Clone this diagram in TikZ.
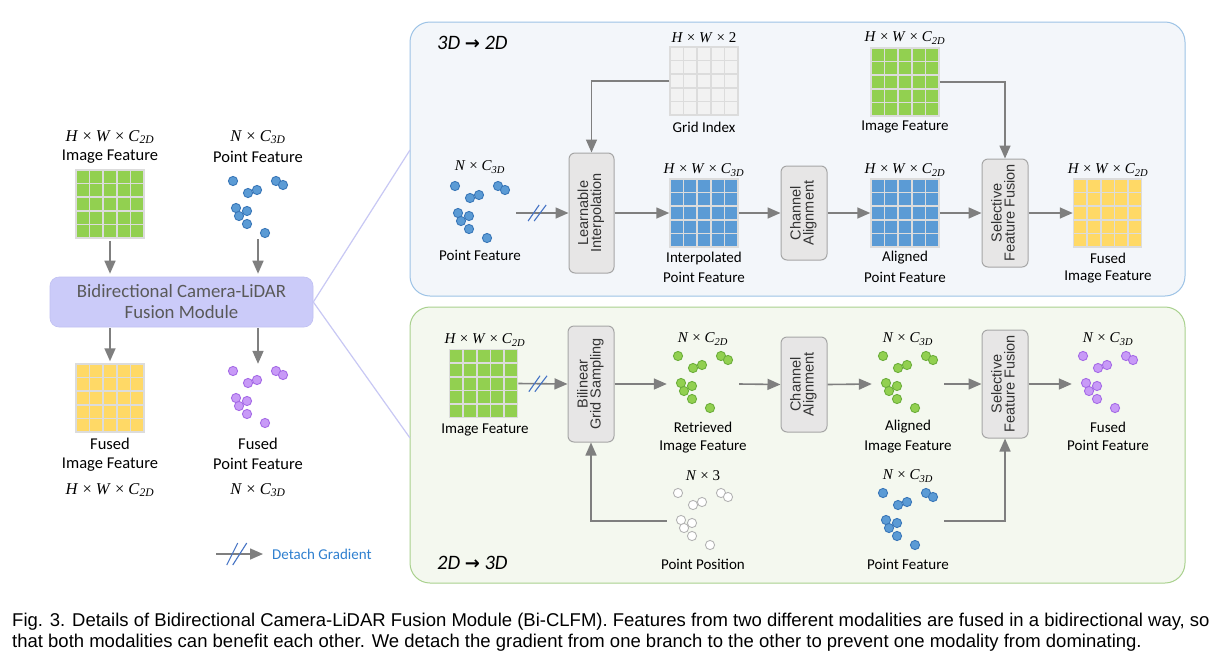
\documentclass[tikz,border=0pt]{standalone}
\usepackage{fontspec}
\setmainfont{Carlito}
\newfontfamily\arialf{Liberation Sans}
\newfontfamily\djv{DejaVu Sans}
\newfontfamily\msf{Liberation Serif}
\newcommand\dimHWC[1]{{\msf\textit{H} × \textit{W} × \textit{C}\textsubscript{\textit{#1}}}}
\newcommand\dimNC[1]{{\msf\textit{N} × \textit{C}\textsubscript{\textit{#1}}}}
\newcommand\dimHWtwo{{\msf\textit{H} × \textit{W} × 2}}
\newcommand\dimNthree{{\msf\textit{N} × 3}}
\usetikzlibrary{arrows.meta,decorations.markings,calc}
\definecolor{gfill}{HTML}{92D050}
\definecolor{gdraw}{HTML}{6DAE3C}
\definecolor{bfill}{HTML}{5B9BD5}
\definecolor{bdraw}{HTML}{3A77B8}
\definecolor{yfill}{HTML}{FFD966}
\definecolor{pfill}{HTML}{C89AF7}
\definecolor{pdraw}{HTML}{A56BE6}
\definecolor{wfill}{HTML}{FFFFFF}
\definecolor{wdraw}{HTML}{B4B4B4}
\definecolor{ifill}{HTML}{F2F2F2}
\definecolor{gridln}{HTML}{DCDCDC}
\definecolor{arrg}{HTML}{7F7F7F}
\definecolor{boxf}{HTML}{E7E6E6}
\definecolor{boxd}{HTML}{A6A6A6}
\definecolor{lav}{HTML}{CBCBF9}
\definecolor{lavd}{HTML}{C0C0F2}
\definecolor{lavline}{HTML}{C8C8F4}
\definecolor{topf}{HTML}{F3F6FA}
\definecolor{topd}{HTML}{9DC3E6}
\definecolor{botf}{HTML}{F4F8EF}
\definecolor{botd}{HTML}{A9D18E}
\definecolor{slashc}{HTML}{4472C4}
\definecolor{legc}{HTML}{2F80D0}
\definecolor{modtext}{HTML}{595959}
\begin{document}
\begin{tikzpicture}[x=1pt,y=-1pt,
  fgrid/.style={draw=gridln, line width=1.5pt, fill=#1, minimum size=68pt, inner sep=0pt,
    path picture={
      \foreach \i in {1,2,3,4}{
        \draw[gridln, line width=1.6pt]
          ($(path picture bounding box.south west)!\i/5!(path picture bounding box.south east)$) --
          ($(path picture bounding box.north west)!\i/5!(path picture bounding box.north east)$);
        \draw[gridln, line width=1.6pt]
          ($(path picture bounding box.south west)!\i/5!(path picture bounding box.north west)$) --
          ($(path picture bounding box.south east)!\i/5!(path picture bounding box.north east)$);
      }}},
  cloudbox/.style={minimum width=72pt, minimum height=60pt, inner sep=0pt},
  pics/cloud/.style 2 args={code={
    \foreach \dx/\dy in {-25/-26,-10/-14,-1/-17,18/-26,25/-22,-22/1,-19/9,-11/4,-11/17,7/26}
      \filldraw[fill=#1, draw=#2, line width=0.9pt] (\dx,\dy) circle[radius=4.6pt];}},
  gbox/.style={draw=boxd, fill=boxf, rounded corners=6pt, line width=1pt, inner sep=0pt,
    font=\arialf\fontsize{14.5}{16}\selectfont, text=black!80},
  arr/.style={draw=arrg, line width=1.6pt, -{Triangle[length=13pt,width=11pt]}},
  detach/.style={postaction={decorate}, decoration={markings, mark=at position #1 with
    {\draw[slashc, -, line width=1.1pt] (-9pt,-8pt)--(2pt,8pt) (-3pt,-8pt)--(9pt,8pt);}}},
  detachbig/.style={postaction={decorate}, decoration={markings, mark=at position #1 with
    {\draw[slashc, -, line width=1.1pt] (-9pt,-11pt)--(2pt,11pt) (-3pt,-11pt)--(11pt,11pt);}}},
  lbl/.style={font=\fontsize{15}{17}\selectfont, inner sep=0pt, text=black},
  llbl/.style={font=\fontsize{16.5}{19}\selectfont, inner sep=0pt, text=black},
  panel/.style={rounded corners=20pt, line width=1pt},
]
\fill[white] (0,0) rectangle (1225,670);
\useasboundingbox (0,0) rectangle (1225,670);

% panels
\node[panel, draw=topd, fill=topf, minimum width=775pt, minimum height=274pt] (ptop) at (797.5,159) {};
\node[panel, draw=botd, fill=botf, minimum width=775pt, minimum height=276pt] (pbot) at (797.5,445) {};

% ---------------- left part ----------------
\node[llbl] (lm1) at (110,137) {\dimHWC{2D}};
\node[llbl] (lt1) at (110,157) {Image Feature};
\node[llbl] (lm2) at (258,137) {\dimNC{3D}};
\node[llbl] (lt2) at (258,157) {Point Feature};
\node[fgrid=gfill] (lif) at (110,204) {};
\node[cloudbox] (lpf) at (258,207) {};
\pic at (258,207) {cloud={bfill}{bdraw}};

\node[fill=lav, draw=lavd, line width=0.6pt, rounded corners=9pt, minimum width=263pt, minimum height=50pt,
  align=center, text=modtext, font=\fontsize{18.8}{21}\selectfont] (bcl) at (181.5,302)
  {Bidirectional Camera-LiDAR\\Fusion Module};

\node[fgrid=yfill] (lfif) at (110,398) {};
\node[cloudbox] (lfpf) at (258,398) {};
\pic at (258,397) {cloud={pfill}{pdraw}};
\node[llbl] (lt3) at (110,444) {Fused};
\node[llbl] (lt4) at (110,465) {Image Feature};
\node[llbl] (lm3) at (110,490) {\dimHWC{2D}};
\node[llbl] (lt5) at (258,444) {Fused};
\node[llbl] (lt6) at (258,464) {Point Feature};
\node[llbl] (lm4) at (258,490) {\dimNC{3D}};

\draw[arr, shorten <=2pt, shorten >=3pt] (lif.south) -- (lif.south |- bcl.north);
\draw[arr, shorten <=2pt, shorten >=3pt] (lpf.south) -- (lpf.south |- bcl.north);
\draw[arr, shorten <=1pt, shorten >=2pt] (bcl.south -| lfif.north) -- (lfif.north);
\draw[arr, shorten <=1pt, shorten >=4pt] (bcl.south -| lfpf.north) -- (lfpf.north);

% lavender links
\coordinate (lu) at (410,150);
\coordinate (ll) at (410,438);
\draw[lavline, line width=1.2pt] (bcl.east) -- (lu);
\draw[lavline, line width=1.2pt] (bcl.east) -- (ll);

% legend
\coordinate (lg1) at (216,554);
\coordinate (lg2) at (263,554);
\draw[arr, detachbig=0.42] (lg1) -- (lg2);
\node[anchor=west, text=legc, font=\fontsize{15}{17}\selectfont, inner sep=0pt] (lgt) at (272,554) {Detach Gradient};

% ---------------- top panel: 3D -> 2D ----------------
\node[anchor=west, inner sep=0pt, font=\fontsize{20.5}{23}\selectfont] (t32) at (437,43)
  {\itshape 3D {\djv\bfseries\fontsize{18}{20}\selectfont →} 2D};

\node[lbl] (gim) at (704,38) {\dimHWtwo};
\node[fgrid=ifill] (gi) at (704,81) {};
\node[lbl] (git) at (704,127) {Grid Index};

\node[lbl] (ifm) at (905,38) {\dimHWC{2D}};
\node[fgrid=gfill] (if1) at (905,82) {};
\node[lbl] (ift) at (905,127) {Image Feature};

\node[lbl] (pfm) at (480,167) {\dimNC{3D}};
\node[cloudbox] (pf1) at (480,213) {};
\pic at (480,212) {cloud={bfill}{bdraw}};
\node[lbl] (pft) at (480,255) {Point Feature};

\node[gbox, minimum width=45pt, minimum height=120pt] (li) at (591.5,213)
  {\rotatebox{90}{\begin{tabular}{@{}c@{}}Learnable\\[-3pt]Interpolation\end{tabular}}};

\node[lbl] (ipm) at (704,170) {\dimHWC{3D}};
\node[fgrid=bfill] (ipf) at (704,213) {};
\node[lbl] (ipt1) at (704,258) {Interpolated};
\node[lbl] (ipt2) at (704,277) {Point Feature};

\node[gbox, minimum width=46pt, minimum height=94pt] (ca1) at (804,213)
  {\rotatebox{90}{\begin{tabular}{@{}c@{}}Channel\\[-3pt]Alignment\end{tabular}}};

\node[lbl] (apm) at (905,170) {\dimHWC{2D}};
\node[fgrid=bfill] (apf) at (905,213) {};
\node[lbl] (apt1) at (905,258) {Aligned};
\node[lbl] (apt2) at (905,277) {Point Feature};

\node[gbox, minimum width=46pt, minimum height=108pt] (sff1) at (1005,213)
  {\rotatebox{90}{\begin{tabular}{@{}c@{}}Selective\\[-3pt]Feature Fusion\end{tabular}}};

\node[lbl] (fim) at (1108,170) {\dimHWC{2D}};
\node[fgrid=yfill] (fif) at (1107.5,213) {};
\node[lbl] (fit1) at (1108,258) {Fused};
\node[lbl] (fit2) at (1108,277) {Image Feature};

\draw[arr] (gi.west) -| (li.north);
\draw[arr] (if1.east) -| (sff1.north);
\draw[arr, detach=0.4] (pf1.east) -- (li.west);
\draw[arr] (li.east) -- (ipf.west);
\draw[arr] (ipf.east) -- (ca1.west);
\draw[arr] (ca1.east) -- (apf.west);
\draw[arr] (apf.east) -- (sff1.west);
\draw[arr] (sff1.east) -- (fif.west);

% ---------------- bottom panel: 2D -> 3D ----------------
\node[anchor=west, inner sep=0pt, font=\fontsize{20.5}{23}\selectfont] (t23) at (437,563)
  {\itshape 2D {\djv\bfseries\fontsize{18}{20}\selectfont →} 3D};

\node[lbl] (bim) at (485,340) {\dimHWC{2D}};
\node[fgrid=gfill] (bif) at (483.5,383.5) {};
\node[lbl] (bit) at (485,430) {Image Feature};

\node[gbox, minimum width=46pt, minimum height=116pt] (bgs) at (591,384)
  {\rotatebox{90}{\begin{tabular}{@{}c@{}}Bilinear\\[-3pt]Grid Sampling\end{tabular}}};

\node[lbl] (rim) at (703,339) {\dimNC{2D}};
\node[cloudbox] (rif) at (703,384) {};
\pic at (703,382) {cloud={gfill}{gdraw}};
\node[lbl] (rit1) at (703,427) {Retrieved};
\node[lbl] (rit2) at (703,447) {Image Feature};

\node[gbox, minimum width=46pt, minimum height=95pt] (ca2) at (804,384.5)
  {\rotatebox{90}{\begin{tabular}{@{}c@{}}Channel\\[-3pt]Alignment\end{tabular}}};

\node[lbl] (aim) at (908,339) {\dimNC{3D}};
\node[cloudbox] (aif) at (908,384) {};
\pic at (908,382) {cloud={gfill}{gdraw}};
\node[lbl] (ait1) at (908,427) {Aligned};
\node[lbl] (ait2) at (908,447) {Image Feature};

\node[gbox, minimum width=46pt, minimum height=108pt] (sff2) at (1005,384)
  {\rotatebox{90}{\begin{tabular}{@{}c@{}}Selective\\[-3pt]Feature Fusion\end{tabular}}};

\node[lbl] (fpm) at (1108,339) {\dimNC{3D}};
\node[cloudbox] (fpf) at (1108,384) {};
\pic at (1108,382) {cloud={pfill}{pdraw}};
\node[lbl] (fpt1) at (1108,427) {Fused};
\node[lbl] (fpt2) at (1108,445) {Point Feature};

\node[lbl] (ppm) at (703,476) {\dimNthree};
\node[cloudbox] (pp) at (703,521) {};
\pic at (703,519) {cloud={wfill}{wdraw}};
\node[lbl] (ppt) at (703,564) {Point Position};

\node[lbl] (pf2m) at (908,476) {\dimNC{3D}};
\node[cloudbox] (pf2) at (908,521) {};
\pic at (908,519) {cloud={bfill}{bdraw}};
\node[lbl] (pf2t) at (908,564) {Point Feature};

\draw[arr, detach=0.4] (bif.east) -- (bgs.west);
\draw[arr] (bgs.east) -- (rif.west);
\draw[arr] (rif.east) -- (ca2.west);
\draw[arr] (ca2.east) -- (aif.west);
\draw[arr] (aif.east) -- (sff2.west);
\draw[arr] (sff2.east) -- (fpf.west);
\draw[arr] (pp.west) -| (bgs.south);
\draw[arr] (pf2.east) -| (sff2.south);

% caption
\node[anchor=west, inner sep=0pt, font=\arialf\fontsize{18.5}{21}\selectfont] (cap1) at (12,622)
  {Fig. 3. Details of Bidirectional Camera-LiDAR Fusion Module (Bi-CLFM). Features from two different modalities are fused in a bidirectional way, so};
\node[anchor=west, inner sep=0pt, font=\arialf\fontsize{18.5}{21}\selectfont] (cap2) at (12,643)
  {that both modalities can benefit each other. We detach the gradient from one branch to the other to prevent one modality from dominating.};
\end{tikzpicture}
\end{document}
